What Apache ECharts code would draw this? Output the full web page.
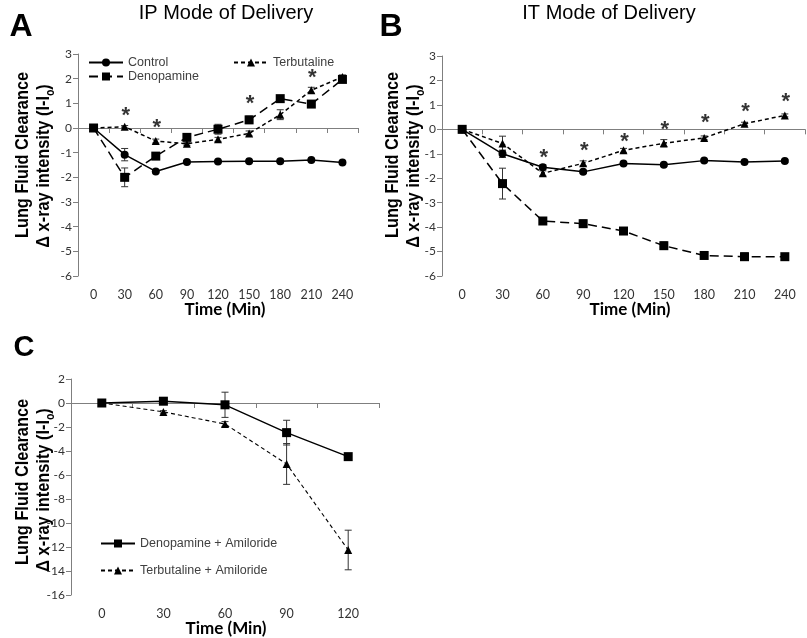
<!DOCTYPE html>
<html><head><meta charset="utf-8">
<script src="https://cdn.jsdelivr.net/npm/echarts@6/dist/echarts.min.js"></script>
<style>html,body{margin:0;padding:0;background:#fff}#c{width:807px;height:638px}</style>
</head><body><div id="c"></div>
<script>
// ---- data ----
const timeAB = ['0','30','60','90','120','150','180','210','240'];
const timeC = ['0','30','60','90','120'];

const ipControl    = [0,-1.08,-1.76,-1.38,-1.36,-1.35,-1.35,-1.30,-1.40];
const ipControlErr = [0,0.25,0.05,0.05,0.04,0.04,0.04,0.04,0.05];
const ipTerb       = [0,0.05,-0.53,-0.64,-0.46,-0.22,0.54,1.53,2.07];
const ipTerbErr    = [0,0.05,0.08,0.06,0.08,0.10,0.20,0.12,0.08];
const ipDeno       = [0,-2.00,-1.14,-0.38,-0.05,0.33,1.19,0.97,1.97];
const ipDenoErr    = [0,0.38,0.12,0.08,0.20,0.15,0.10,0.08,0.06];
const ipStars      = [[1,0.68],[2,0.21],[5,1.18],[7,2.23]];

const itControl    = [0,-1.00,-1.55,-1.74,-1.40,-1.45,-1.28,-1.34,-1.30];
const itControlErr = [0,0.15,0.10,0.05,0.05,0.05,0.05,0.05,0.05];
const itTerb       = [0,-0.58,-1.80,-1.39,-0.86,-0.57,-0.35,0.23,0.57];
const itTerbErr    = [0,0.30,0.10,0.10,0.08,0.15,0.08,0.06,0.06];
const itDeno       = [0,-2.22,-3.75,-3.86,-4.16,-4.76,-5.16,-5.21,-5.21];
const itDenoErr    = [0,0.63,0.10,0.15,0.06,0.15,0.06,0.15,0.12];
const itStars      = [[2,-0.98],[3,-0.67],[4,-0.33],[5,0.16],[6,0.45],[7,0.92],[8,1.31]];

const cDenoAmil    = [0,0.15,-0.15,-2.47,-4.47];
const cDenoAmilErr = [0,0.10,1.05,1.03,0.15];
const cTerbAmil    = [0,-0.74,-1.75,-5.08,-12.25];
const cTerbAmilErr = [0,0.10,0.20,1.70,1.65];

// ---- helpers ----
const AX = '#7f7f7f';
function errData(vals, errs){ return vals.map((v,i)=>[i, v-errs[i], v+errs[i]]); }
function errSeries(vals, errs, gi){
  return {type:'custom', xAxisIndex:gi, yAxisIndex:gi, z:1, silent:true,
    data: errData(vals, errs),
    renderItem: function(params, api){
      const lo = api.coord([api.value(0), api.value(1)]);
      const hi = api.coord([api.value(0), api.value(2)]);
      const w = 3.5, st = {stroke:'#333', lineWidth:1};
      return {type:'group', children:[
        {type:'line', shape:{x1:lo[0],y1:lo[1],x2:hi[0],y2:hi[1]}, style:st},
        {type:'line', shape:{x1:lo[0]-w,y1:lo[1],x2:lo[0]+w,y2:lo[1]}, style:st},
        {type:'line', shape:{x1:hi[0]-w,y1:hi[1],x2:hi[0]+w,y2:hi[1]}, style:st}
      ]};
    }};
}
function lineSeries(name, vals, gi, kind){
  const sty = {
    control:{sym:'circle', size:8, type:'solid'},
    terb:{sym:'triangle', size:8, type:[4,3]},
    deno:{sym:'rect', size:9, type:[9,5]}
  }[kind];
  return {name:name, type:'line', xAxisIndex:gi, yAxisIndex:gi, z:3,
    data: vals, symbol: sty.sym, symbolSize: sty.size, showSymbol:true,
    lineStyle:{color:'#000', width:1.5, type: sty.type},
    itemStyle:{color:'#000'}, animation:false};
}
function starSeries(pts, gi){
  return {type:'scatter', xAxisIndex:gi, yAxisIndex:gi, z:4, silent:true,
    data: pts, symbolSize:1, itemStyle:{color:'transparent'},
    label:{show:true, position:'inside', formatter:'*', color:'#000',
      fontSize:22, fontWeight:'bold', fontFamily:'Liberation Sans', offset:[1,5]}};
}
function xAx(data, gi){
  return {type:'category', gridIndex:gi, data:data, boundaryGap:true,
    axisLine:{lineStyle:{color:AX}}, axisTick:{show:true, length:5, lineStyle:{color:AX}},
    axisLabel:{interval:0, color:'#333', fontSize:12.5, fontFamily:'Lato', margin:12},
    splitLine:{show:false}};
}
function yAx(min,max,interval,gi){
  return {type:'value', gridIndex:gi, min:min, max:max, interval:interval,
    axisLine:{show:true, lineStyle:{color:AX}}, axisTick:{show:true, length:5, lineStyle:{color:AX}},
    axisLabel:{color:'#333', fontSize:12, fontFamily:'Lato', margin:6},
    splitLine:{show:false}};
}
const legTxt = {color:'#404040', fontSize:12.5, fontFamily:'Liberation Sans'};
function leg(name, left, top){
  return {data:[name], left:left, top:top, itemWidth:34, itemHeight:10, itemGap:4,
    padding:0, textStyle:legTxt, selectedMode:false};
}
function ytitle(x, y, txt){
  return {type:'text', x:x, y:y, rotation:Math.PI/2, scaleX:0.86,
    style:{text:txt, fill:'#000', font:'bold 19px "Liberation Sans"', align:'center', verticalAlign:'middle',
      rich:{b:{fontSize:19, fontWeight:'bold', fontFamily:'Liberation Sans', lineHeight:26, verticalAlign:'middle'},
            s:{fontSize:12, fontWeight:'bold', fontFamily:'Liberation Sans', lineHeight:12, verticalAlign:'bottom'}}}};
}
function plain(x,y,txt,font,align){
  return {type:'text', x:x, y:y, style:{text:txt, fill:'#000', font:font, align:align||'center', verticalAlign:'middle'}};
}

const chart = echarts.init(document.getElementById('c'), null, {renderer:'canvas'});
chart.setOption({
  animation:false,
  backgroundColor:'#fff',
  grid:[
    {left:78, top:54, width:280, height:222},
    {left:442, top:56, width:363, height:220},
    {left:71, top:379, width:308, height:216}
  ],
  xAxis:[xAx(timeAB,0), xAx(timeAB,1), xAx(timeC,2)],
  yAxis:[yAx(-6,3,1,0), yAx(-6,3,1,1), yAx(-16,2,2,2)],
  legend:[
    leg('Control',88,56), leg('Terbutaline',233,56), leg('Denopamine',88,70),
    leg('Denopamine + Amiloride',100,537), leg('Terbutaline + Amiloride',100,564)
  ],
  series:[
    errSeries(ipControl, ipControlErr, 0), errSeries(ipTerb, ipTerbErr, 0), errSeries(ipDeno, ipDenoErr, 0),
    lineSeries('Control', ipControl, 0, 'control'),
    lineSeries('Terbutaline', ipTerb, 0, 'terb'),
    lineSeries('Denopamine', ipDeno, 0, 'deno'),
    starSeries(ipStars, 0),
    errSeries(itControl, itControlErr, 1), errSeries(itTerb, itTerbErr, 1), errSeries(itDeno, itDenoErr, 1),
    lineSeries('Control', itControl, 1, 'control'),
    lineSeries('Terbutaline', itTerb, 1, 'terb'),
    lineSeries('Denopamine', itDeno, 1, 'deno'),
    starSeries(itStars, 1),
    errSeries(cDenoAmil, cDenoAmilErr, 2), errSeries(cTerbAmil, cTerbAmilErr, 2),
    Object.assign(lineSeries('Denopamine + Amiloride', cDenoAmil, 2, 'deno'), {lineStyle:{color:'#000', width:1.4, type:'solid'}}),
    Object.assign(lineSeries('Terbutaline + Amiloride', cTerbAmil, 2, 'terb'), {lineStyle:{color:'#000', width:1.1, type:[4,3]}})
  ],
  graphic:[
    plain(226,13,'IP Mode of Delivery','20px "Liberation Sans"'),
    plain(609,13,'IT Mode of Delivery','20px "Liberation Sans"'),
    plain(21,27,'A','bold 32px "Liberation Sans"'),
    plain(391,27,'B','bold 32px "Liberation Sans"'),
    plain(24,348,'C','bold 29px "Liberation Sans"'),
    ytitle(23,155,'{b|Lung Fluid Clearance}'),
    ytitle(44,166,'{b|Δ x-ray intensity (I-I}{s|o}{b|)}'),
    ytitle(393,155,'{b|Lung Fluid Clearance}'),
    ytitle(414,166,'{b|Δ x-ray intensity (I-I}{s|o}{b|)}'),
    ytitle(23,482,'{b|Lung Fluid Clearance}'),
    ytitle(44,490,'{b|Δ x-ray intensity (I-I}{s|o}{b|)}'),
    plain(225,310,'Time (Min)','bold 17px Lato'),
    plain(630,310,'Time (Min)','bold 17px Lato'),
    plain(226,629,'Time (Min)','bold 17px Lato')
  ]
});
</script></body></html>
